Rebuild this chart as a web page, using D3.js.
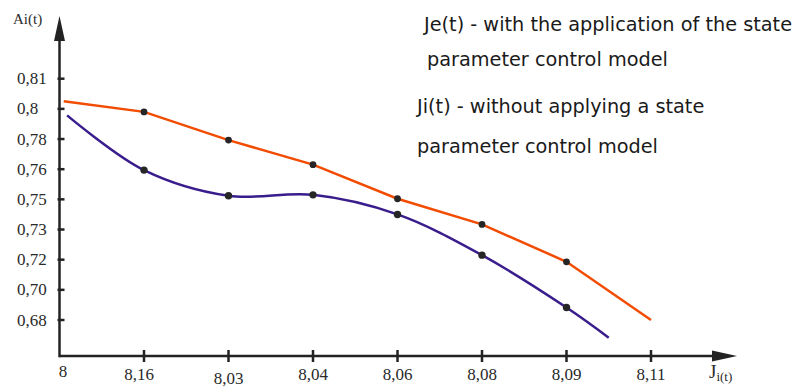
<!DOCTYPE html>
<html><head><meta charset="utf-8">
<script src="https://cdn.jsdelivr.net/npm/d3@7"></script>
<style>html,body{margin:0;padding:0;background:#fff;}svg{display:block;}
text.tnr{font-family:"Liberation Serif","Times New Roman",Times,"DejaVu Serif",serif;}
g.sans text{font-family:"DejaVu Sans","Noto Sans",sans-serif;}
</style>
</head><body>
<svg id="chart" width="805" height="387"></svg>
<script>
// ---- data ----
const xLabels = ["8", "8,16", "8,03", "8,04", "8,06", "8,08", "8,09", "8,11"];
const yTicks = [0.68, 0.70, 0.72, 0.73, 0.75, 0.76, 0.78, 0.80, 0.81];
const yTickLabels = ["0,68", "0,70", "0,72", "0,73", "0,75", "0,76", "0,78", "0,8", "0,81"];
// x given as position along the category axis (index of label)
const jeX = [0.05, 1, 2, 3, 4, 5, 6, 7];
const jeY = [0.8025, 0.798, 0.7793, 0.763, 0.7502, 0.7334, 0.7186, 0.68];
const jeMarked = [false, true, true, true, true, true, true, false];
const jiX = [0.09, 1, 2, 3, 4, 5, 6, 6.5];
const jiY = [0.7957, 0.7597, 0.7512, 0.7515, 0.740, 0.7215, 0.6883, 0.6683];
const jiMarked = [false, true, true, true, true, true, true, false];
const legendJe = ["Je(t) - with the application of the state", "parameter control model"];
const legendJi = ["Ji(t) - without applying a state", "parameter control model"];

// ---- layout ----
const svg = d3.select("#chart");
const x0 = 59.5, xEnd = 651, yBase = 356, yTop = 16, xTip = 737;
const x = d3.scaleLinear().domain([0, xLabels.length - 1]).range([x0, xEnd]);
const yRange = yTicks.map((d, i) => 320 - i * (320 - 78.7) / (yTicks.length - 1));
const y = d3.scaleLinear().domain(yTicks).range(yRange);

const axisColor = "#232323";

// axes
const ax = svg.append("g");
ax.append("line").attr("x1", x0).attr("x2", xTip - 20).attr("y1", yBase).attr("y2", yBase)
  .attr("stroke", axisColor).attr("stroke-width", 2.5);
ax.append("line").attr("x1", x0).attr("x2", x0).attr("y1", yBase + 1.2).attr("y2", yTop + 20)
  .attr("stroke", axisColor).attr("stroke-width", 2.5);
// arrowheads
ax.append("path").attr("d", `M${x0},${yTop} L${x0 - 5.5},${yTop + 25} L${x0 + 5.5},${yTop + 25} Z`).attr("fill", axisColor);
ax.append("path").attr("d", `M${xTip},${yBase} L${xTip - 25},${yBase - 5.5} L${xTip - 25},${yBase + 5.5} Z`).attr("fill", axisColor);

// y ticks
yTicks.forEach((v, i) => {
  ax.append("line").attr("x1", x0 - 2).attr("x2", x0 + 5).attr("y1", y(v)).attr("y2", y(v))
    .attr("stroke", axisColor).attr("stroke-width", 2.5);
  ax.append("text").attr("class", "tnr").attr("x", 17).attr("y", y(v) + 5.5).text(yTickLabels[i])
    .attr("font-size", 17).attr("fill", "#2a2a2a");
});
// x ticks
xLabels.forEach((lab, i) => {
  if (i > 0) {
    ax.append("line").attr("x1", x(i)).attr("x2", x(i)).attr("y1", yBase - 6).attr("y2", yBase + 6)
      .attr("stroke", axisColor).attr("stroke-width", 2.5);
  }
  ax.append("text").attr("class", "tnr")
    .attr("x", i === 0 ? x(i) + 3.5 : (i === 1 ? x(i) - 5 : x(i)))
    .attr("y", i === 0 ? 377 : (i === 2 ? 383.5 : 380))
    .attr("text-anchor", "middle").text(lab)
    .attr("font-size", 17).attr("fill", "#2a2a2a");
});
// axis titles
ax.append("text").attr("class", "tnr").attr("x", 13).attr("y", 24).text("Ai(t)")
  .attr("font-size", 15).attr("fill", "#2a2a2a");
const jt = ax.append("text").attr("class", "tnr").attr("x", 709).attr("y", 378)
  .attr("font-size", 19).attr("fill", "#2a2a2a");
jt.append("tspan").text("J");
jt.append("tspan").text("i(t)").attr("font-size", 13).attr("dy", 3);

// series
const lineLin = d3.line().x(d => x(d[0])).y(d => y(d[1])).curve(d3.curveLinear);
const lineSmooth = d3.line().x(d => x(d[0])).y(d => y(d[1])).curve(d3.curveCatmullRom.alpha(0.5));
const jePts = jeX.map((v, i) => [v, jeY[i]]);
const jiPts = jiX.map((v, i) => [v, jiY[i]]);

svg.append("path").attr("d", lineSmooth(jiPts)).attr("fill", "none")
  .attr("stroke", "#3a1d8c").attr("stroke-width", 2.5);
svg.append("path").attr("d", lineLin(jePts)).attr("fill", "none")
  .attr("stroke", "#f24b02").attr("stroke-width", 2.5);

const markers = svg.append("g");
jePts.forEach((p, i) => { if (jeMarked[i])
  markers.append("circle").attr("cx", x(p[0])).attr("cy", y(p[1])).attr("r", 3.4).attr("fill", "#262626"); });
jiPts.forEach((p, i) => { if (jiMarked[i])
  markers.append("circle").attr("cx", x(p[0])).attr("cy", y(p[1])).attr("r", 3.7).attr("fill", "#262626"); });

// legend text
const lg = svg.append("g").attr("class", "sans").attr("font-size", 19.3).attr("fill", "#1a1a1a");
legendJe.forEach((t, i) => lg.append("text").attr("x", i === 0 ? 424 : 427).attr("y", 31 + i * 35).text(t));
legendJi.forEach((t, i) => lg.append("text").attr("x", 417).attr("y", 113 + i * 40).text(t));
</script>
</body></html>
